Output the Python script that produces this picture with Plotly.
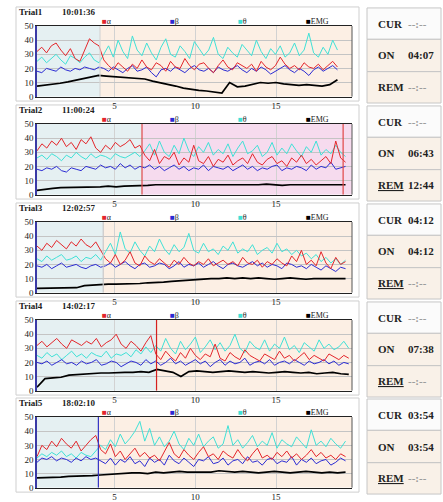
import numpy as np
import plotly.graph_objects as go

W, H = 443, 502

# ---------------- data ----------------
trial_names = ["Trial1", "Trial2", "Trial3", "Trial4", "Trial5"]
trial_times = ["10:01:36", "11:00:24", "12:02:57", "14:02:17", "18:02:10"]
series_names = ["α", "β", "θ", "EMG"]
x_ticks = [5, 10, 15]
y_ticks = [0, 10, 20, 30, 40, 50]
t_start = 0.2
t_end = [18.8, 19.3, 19.3, 19.5, 19.3]
phase_split = [4.1, 6.7, 4.3, 7.6, 4.0]
rem_mark = [None, 19.15, None, None, None]
cur_vals = ["--:--", "--:--", "04:12", "--:--", "03:54"]
on_vals = ["04:07", "06:43", "04:12", "07:38", "03:54"]
rem_vals = ["--:--", "12:44", "--:--", "--:--", "--:--"]

alpha_1 = [32, 35, 31, 36, 38, 33, 29, 34, 27, 25, 33, 41, 38, 36, 26, 22, 19, 24, 21, 18,
           23, 20, 26, 21, 19, 24, 22, 18, 25, 21, 20, 27, 22, 19, 23, 24, 20, 17, 22, 26,
           21, 19, 24, 22, 20, 23, 18, 25, 21, 19, 22, 28, 23, 20, 22, 19, 24, 21, 20, 23,
           19, 22, 25, 21]
beta_1 = [18, 17, 20, 19, 18, 21, 19, 18, 20, 19, 21, 20, 19, 21, 20, 18, 21, 19, 17, 20,
          22, 18, 19, 21, 17, 14, 19, 20, 18, 21, 19, 17, 20, 22, 19, 18, 20, 17, 21, 19,
          18, 20, 22, 19, 17, 20, 18, 21, 19, 16, 18, 20, 22, 19, 17, 20, 18, 15, 19, 21,
          18, 20, 22, 19]
theta_1 = [25, 28, 24, 27, 30, 26, 23, 29, 27, 24, 28, 31, 26, 24, 30, 36, 28, 40, 32, 27,
           43, 33, 29, 38, 31, 26, 35, 41, 30, 28, 36, 32, 27, 39, 34, 29, 33, 42, 30, 27,
           35, 31, 28, 37, 33, 29, 40, 32, 27, 34, 30, 36, 28, 31, 38, 29, 33, 45, 31, 28,
           35, 30, 40, 33]
emg_1 = [7.5, 8, 8.5, 9.5, 10.5, 11.5, 12.5, 14, 15, 14.5, 14, 13.5, 13.5, 13, 12.5, 11,
         10, 9, 7.5, 6, 5, 4.5, 4, 3.5, 2.5, 10, 7, 7.5, 9, 10, 9.5, 10, 9, 8.5, 8, 8.5,
         8, 7.5, 8.5, 12]

alpha_2 = [31, 36, 33, 38, 35, 40, 34, 37, 32, 39, 36, 41, 33, 30, 35, 32, 37, 34, 36, 39,
           33, 35, 28, 24, 32, 22, 27, 25, 30, 21, 26, 23, 35, 24, 22, 27, 20, 25, 23, 28,
           21, 24, 26, 22, 29, 23, 21, 25, 27, 22, 24, 20, 26, 23, 28, 22, 25, 21, 24, 27,
           22, 38, 26, 23]
beta_2 = [18, 17, 19, 18, 20, 17, 16, 19, 18, 17, 20, 19, 18, 21, 19, 20, 18, 22, 19, 21,
          18, 20, 19, 21, 18, 20, 17, 19, 21, 18, 20, 17, 19, 18, 21, 17, 20, 19, 18, 20,
          17, 19, 21, 18, 20, 17, 19, 18, 20, 21, 17, 19, 18, 20, 19, 17, 21, 18, 20, 19,
          23, 18, 19, 20]
theta_2 = [26, 28, 25, 29, 27, 24, 28, 26, 30, 27, 25, 29, 26, 28, 27, 25, 29, 27, 26, 28,
           30, 27, 31, 36, 28, 38, 30, 27, 35, 29, 40, 31, 27, 34, 30, 37, 28, 32, 29, 36,
           27, 33, 38, 29, 31, 35, 27, 30, 37, 28, 33, 29, 36, 31, 27, 34, 30, 38, 28, 32,
           29, 35, 30, 27]
emg_2 = [3, 4, 4.5, 5, 5, 5.5, 5.5, 5.5, 5.5, 6, 5.5, 6, 6, 6.5, 6.5, 7, 7, 7, 6.5, 7,
         7, 6.5, 7, 7, 6.5, 7, 7, 6.5, 7, 7.5, 7, 6.5, 7, 7, 6.5, 7, 6.5, 7, 6.5, 7]

alpha_3 = [33, 30, 35, 32, 37, 34, 31, 36, 33, 38, 34, 32, 36, 30, 24, 21, 27, 20, 23, 29,
           21, 19, 26, 22, 20, 24, 21, 18, 23, 20, 25, 21, 19, 22, 20, 24, 19, 21, 23, 20,
           22, 19, 25, 21, 20, 23, 18, 22, 20, 24, 21, 19, 26, 22, 30, 20, 23, 19, 29, 21,
           17, 25, 20, 22]
beta_3 = [19, 18, 20, 17, 19, 21, 18, 19, 20, 18, 17, 19, 20, 18, 19, 21, 18, 20, 22, 19,
          17, 20, 21, 18, 19, 21, 20, 17, 19, 22, 18, 20, 19, 21, 18, 20, 22, 19, 17, 20,
          21, 19, 18, 20, 22, 19, 21, 18, 20, 19, 17, 21, 20, 18, 19, 17, 20, 18, 16, 19,
          17, 15, 18, 17]
theta_3 = [24, 22, 26, 23, 25, 27, 23, 24, 26, 22, 25, 24, 27, 23, 29, 35, 27, 43, 31, 28,
           36, 30, 26, 33, 29, 38, 31, 27, 34, 29, 32, 42, 30, 28, 35, 29, 31, 27, 33, 30,
           36, 28, 31, 29, 34, 27, 30, 32, 28, 35, 29, 31, 27, 30, 26, 28, 24, 27, 22, 25,
           21, 24, 20, 23]
emg_3 = [3, 3, 3, 3, 3.5, 3.5, 5, 5.5, 5.5, 6, 6, 6, 6.5, 6.5, 7, 7, 7.5, 8, 8.5, 9,
         9.5, 9.5, 10, 10, 10.5, 10, 10.5, 10, 10.5, 10, 9.5, 10, 10.5, 10, 9.5, 10, 10,
         9.5, 10, 10]

alpha_4 = [32, 35, 31, 34, 37, 33, 30, 36, 34, 32, 35, 33, 37, 31, 34, 36, 40, 33, 30, 35,
           32, 28, 34, 39, 26, 22, 28, 24, 21, 27, 23, 30, 25, 22, 26, 24, 33, 23, 21, 27,
           24, 22, 29, 25, 23, 21, 26, 24, 22, 28, 23, 25, 21, 24, 27, 22, 25, 23, 21, 26,
           24, 22, 25, 23]
beta_4 = [20, 19, 21, 18, 20, 22, 19, 20, 18, 21, 19, 20, 22, 18, 19, 21, 20, 17, 19, 21,
          20, 18, 22, 19, 21, 18, 20, 23, 19, 21, 18, 20, 22, 19, 21, 17, 20, 22, 18, 21,
          19, 20, 23, 18, 20, 21, 19, 22, 18, 20, 21, 19, 22, 20, 18, 21, 19, 20, 22, 19,
          21, 18, 20, 19]
theta_4 = [25, 23, 27, 24, 26, 22, 25, 28, 24, 26, 23, 27, 25, 24, 28, 23, 26, 25, 27, 24,
           29, 26, 31, 27, 32, 28, 37, 30, 26, 35, 29, 33, 38, 27, 31, 36, 29, 34, 28, 32,
           40, 30, 27, 35, 31, 29, 36, 28, 33, 30, 38, 29, 32, 27, 34, 31, 28, 36, 30, 33,
           29, 31, 35, 30]
emg_4 = [2.5, 8.5, 9, 9.5, 11, 11.5, 11.5, 12, 12.5, 12.5, 13, 13, 13, 13.5, 13, 15, 14,
         13, 10, 13.5, 14, 13.5, 13, 13.5, 14, 13.5, 13, 13.5, 13, 12.5, 13, 13.5, 13, 12.5,
         13, 12, 12.5, 13, 12, 11.5]

alpha_5 = [22, 30, 27, 33, 29, 35, 31, 28, 33, 26, 30, 34, 37, 27, 24, 31, 22, 26, 20, 24,
           28, 22, 25, 21, 23, 19, 26, 32, 24, 21, 27, 23, 20, 25, 29, 22, 24, 20, 26, 23,
           21, 27, 22, 19, 24, 28, 21, 23, 20, 25, 22, 26, 21, 24, 20, 23, 27, 22, 25, 21,
           23, 20, 24, 22]
beta_5 = [18, 21, 20, 22, 19, 21, 20, 18, 21, 19, 22, 20, 21, 19, 17, 21, 16, 20, 18, 22,
          17, 19, 15, 21, 18, 20, 16, 23, 19, 17, 21, 18, 15, 20, 19, 22, 17, 18, 21, 16,
          19, 20, 17, 22, 18, 19, 16, 20, 21, 17, 19, 18, 22, 16, 20, 18, 21, 17, 19, 20,
          16, 18, 21, 19]
theta_5 = [21, 24, 22, 25, 23, 26, 22, 24, 21, 25, 23, 22, 26, 30, 27, 34, 29, 38, 31, 35,
           40, 47, 33, 42, 30, 36, 29, 33, 40, 31, 27, 35, 30, 38, 29, 33, 36, 28, 31, 44,
           30, 34, 28, 32, 37, 29, 33, 30, 39, 28, 34, 31, 29, 36, 32, 28, 41, 30, 33, 29,
           35, 31, 28, 33]
emg_5 = [7, 7, 7.5, 7.5, 8, 8, 8, 8.5, 9, 9.5, 10, 10, 10.5, 10.5, 10, 11, 10.5, 11, 11.5,
         11, 11, 11.5, 11, 12, 11.5, 11, 11.5, 11, 10.5, 11, 11.5, 11, 10.5, 11, 11.5, 11,
         10.5, 11, 10.5, 11]

alphas = [alpha_1, alpha_2, alpha_3, alpha_4, alpha_5]
betas = [beta_1, beta_2, beta_3, beta_4, beta_5]
thetas = [theta_1, theta_2, theta_3, theta_4, theta_5]
emgs = [emg_1, emg_2, emg_3, emg_4, emg_5]

# ---------------- style ----------------
colors = {"α": "#e3262b", "β": "#2b2bd3", "θ": "#3fe0d6", "EMG": "#000000"}
phase1_fill = "#e5f0f2"
phase2_fill = ["#fcefe4", "#f6dbee", "#fcefe4", "#fcefe4", "#fcefe4"]
split_color = ["#d6d6d6", "#e04848", "#c8c8c8", "#d42020", "#3434c4"]
block_top = [0, 100, 200, 300, 399]
PL, PR, PH = 37, 352, 72
FONT = "Liberation Serif"


def px(x):
    return x / W


def py(y):
    return 1 - y / H


fig = go.Figure()
shapes = []
annotations = []

for i in range(5):
    n = i + 1
    xa = "x" if n == 1 else f"x{n}"
    ya = "y" if n == 1 else f"y{n}"
    B = block_top[i]
    top = B + 21.5

    for name, vals, lw in [("θ", thetas[i], 1), ("β", betas[i], 1),
                           ("α", alphas[i], 1), ("EMG", emgs[i], 1.7)]:
        t = np.linspace(t_start, t_end[i], len(vals))
        fig.add_trace(go.Scatter(x=t, y=vals, mode="lines",
                                 line=dict(color=colors[name], width=lw),
                                 xaxis=xa, yaxis=ya, showlegend=False,
                                 hoverinfo="skip"))

    fig.layout["xaxis" + ("" if n == 1 else str(n))] = dict(
        domain=[px(PL), px(PR)], range=[0.2, 19.7], anchor=ya,
        tickvals=x_ticks, ticktext=[str(v) for v in x_ticks],
        showgrid=True, gridcolor="#d2d2d2", gridwidth=1,
        showline=True, linecolor="#222222", linewidth=1.2, mirror=True,
        ticks="", zeroline=False, fixedrange=True,
        tickfont=dict(family=FONT, size=9, color="#222"))
    fig.layout["yaxis" + ("" if n == 1 else str(n))] = dict(
        domain=[py(top + PH), py(top)], range=[0, 50], anchor=xa,
        tickvals=y_ticks, ticktext=[str(v) for v in y_ticks],
        showgrid=True, gridcolor="#c4c4c4", gridwidth=1,
        showline=True, linecolor="#3a3aa6", linewidth=1.6,
        ticks="", zeroline=False, fixedrange=True,
        tickfont=dict(family=FONT, size=9, color="#222"))

    # panel frame
    shapes.append(dict(type="rect", xref="paper", yref="paper",
                       x0=px(16), x1=px(359), y0=py(B + 98), y1=py(B + 2),
                       line=dict(color="#cfcfcf", width=1), fillcolor="white",
                       layer="below"))
    # phase backgrounds
    shapes.append(dict(type="rect", xref=xa, yref=ya, x0=0.2, x1=phase_split[i],
                       y0=0, y1=50, line=dict(width=0), fillcolor=phase1_fill,
                       layer="below"))
    shapes.append(dict(type="rect", xref=xa, yref=ya, x0=phase_split[i], x1=19.7,
                       y0=0, y1=50, line=dict(width=0), fillcolor=phase2_fill[i],
                       layer="below"))
    shapes.append(dict(type="line", xref=xa, yref=ya, x0=phase_split[i],
                       x1=phase_split[i], y0=0, y1=50,
                       line=dict(color=split_color[i], width=1.2), layer="above"))
    if rem_mark[i] is not None:
        shapes.append(dict(type="line", xref=xa, yref=ya, x0=rem_mark[i],
                           x1=rem_mark[i], y0=0, y1=50,
                           line=dict(color="#e04848", width=1.2), layer="above"))
    # right border of plot area
    shapes.append(dict(type="line", xref=xa + " domain", yref=ya + " domain",
                       x0=1, x1=1, y0=0, y1=1,
                       line=dict(color="#555555", width=1), layer="above"))

    # title
    annotations.append(dict(xref="paper", yref="paper", x=px(17), y=py(B + 7.5),
                            xanchor="left", yanchor="middle", showarrow=False,
                            text="<b>" + trial_names[i] + "</b>",
                            font=dict(family=FONT, size=9, color="#222")))
    annotations.append(dict(xref="paper", yref="paper", x=px(60), y=py(B + 7.5),
                            xanchor="left", yanchor="middle", showarrow=False,
                            text="<b>" + trial_times[i] + "</b>",
                            font=dict(family=FONT, size=9, color="#222")))
    # legend
    for lx, name in zip([100, 168, 236, 304], series_names):
        annotations.append(dict(
            xref="paper", yref="paper", x=px(lx), y=py(B + 16.5),
            xanchor="left", yanchor="middle", showarrow=False,
            text=f'<span style="color:{colors[name]}">■</span>{name}',
            font=dict(family=FONT, size=8, color="#222")))

    # right status boxes
    box_edges = [B + 3, B + 35, B + 68, B + 100]
    fills = ["#fbfbfb", "#f9f1e8", "#f9f1e8"]
    labels = ["CUR", "ON", "<u>REM</u>" if i > 0 else "REM"]
    values = [cur_vals[i], on_vals[i], rem_vals[i]]
    for k in range(3):
        shapes.append(dict(type="rect", xref="paper", yref="paper",
                           x0=px(367), x1=px(441), y0=py(box_edges[k + 1]),
                           y1=py(box_edges[k]),
                           line=dict(color="#c6c6c6", width=1), fillcolor=fills[k],
                           layer="below"))
        yc = py((box_edges[k] + box_edges[k + 1]) / 2)
        annotations.append(dict(xref="paper", yref="paper", x=px(376), y=yc,
                                xanchor="left", yanchor="middle", showarrow=False,
                                text="<b>" + labels[k] + "</b>",
                                font=dict(family=FONT, size=11, color="#222")))
        v = values[k]
        annotations.append(dict(xref="paper", yref="paper", x=px(406), y=yc,
                                xanchor="left", yanchor="middle", showarrow=False,
                                text="<b>" + v + "</b>",
                                font=dict(family=FONT, size=11,
                                          color="#9a9a9a" if v.startswith("-") else "#222")))

fig.update_layout(width=W, height=H, margin=dict(l=0, r=0, t=0, b=0),
                  paper_bgcolor="white", plot_bgcolor="rgba(0,0,0,0)",
                  shapes=shapes, annotations=annotations, showlegend=False)

fig.write_html("out.html", config={"displayModeBar": False})
